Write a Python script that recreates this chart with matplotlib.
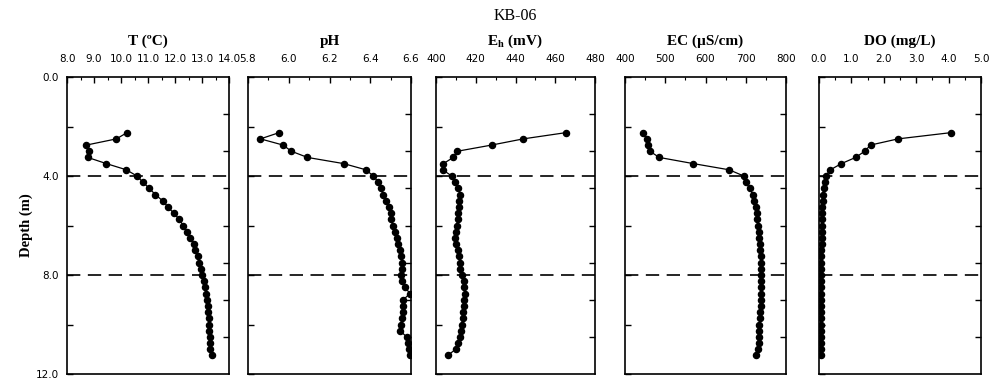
import matplotlib
matplotlib.use("Agg")
import matplotlib.pyplot as plt
from matplotlib.ticker import MultipleLocator

plt.rcParams['mathtext.fontset'] = 'stix'

depth = [2.25, 2.5, 2.75, 3.0, 3.25, 3.5, 3.75, 4.0, 4.25, 4.5, 4.75, 5.0, 5.25,
         5.5, 5.75, 6.0, 6.25, 6.5, 6.75, 7.0, 7.25, 7.5, 7.75, 8.0, 8.25, 8.5,
         8.75, 9.0, 9.25, 9.5, 9.75, 10.0, 10.25, 10.5, 10.75, 11.0, 11.25]

temp = [10.22, 9.83, 8.72, 8.80, 8.77, 9.46, 10.20, 10.59, 10.81, 11.05, 11.27,
        11.54, 11.74, 11.95, 12.16, 12.30, 12.44, 12.57, 12.69, 12.75, 12.84,
        12.90, 12.95, 13.01, 13.06, 13.11, 13.14, 13.19, 13.21, 13.23, 13.25,
        13.26, 13.27, 13.28, 13.28, 13.31, 13.36]

ph = [5.952, 5.861, 5.972, 6.013, 6.092, 6.270, 6.379, 6.415, 6.440, 6.455,
      6.462, 6.478, 6.490, 6.500, 6.503, 6.510, 6.521, 6.530, 6.538, 6.546,
      6.550, 6.556, 6.558, 6.552, 6.555, 6.571, 6.595, 6.562, 6.560, 6.562,
      6.556, 6.550, 6.547, 6.578, 6.585, 6.592, 6.596]

eh = [465.2, 443.9, 428.0, 410.7, 408.7, 403.7, 403.4, 407.9, 409.6, 411.2,
      412.1, 411.7, 411.7, 411.2, 410.9, 410.4, 410.1, 409.7, 410.1, 410.9,
      411.6, 412.1, 412.1, 413.2, 414.1, 414.2, 414.6, 414.2, 414.1, 413.8,
      413.4, 412.9, 412.6, 412.1, 411.2, 409.9, 405.9]

ec = [444, 454, 458, 462, 485, 570, 659, 695, 700, 710, 717, 721, 725, 728,
      729, 731, 733, 734, 735, 736, 737, 738, 739, 739, 739, 739, 739, 738,
      737, 736, 735, 734, 734, 733, 732, 730, 726]

do = [4.06, 2.44, 1.59, 1.41, 1.13, 0.69, 0.35, 0.21, 0.18, 0.14, 0.12, 0.11,
      0.10, 0.10, 0.09, 0.09, 0.08, 0.08, 0.08, 0.07, 0.07, 0.07, 0.07, 0.06,
      0.06, 0.06, 0.06, 0.06, 0.06, 0.06, 0.06, 0.06, 0.06, 0.06, 0.06, 0.06,
      0.06]

titles = ["T (\u00baC)", "pH", r"E$_\mathbf{h}$ (mV)", "EC (\u00b5S/cm)", "DO (mg/L)"]
series = [temp, ph, eh, ec, do]
xlims = [(8.0, 14.0), (5.8, 6.6), (400, 480), (400, 800), (0.0, 5.0)]
xmajor = [1.0, 0.2, 20, 100, 1.0]
xfmt = ["{:.1f}", "{:.1f}", "{:.0f}", "{:.0f}", "{:.1f}"]
ref_depths = [4.0, 8.0]

W, H = 992, 380
fig = plt.figure(figsize=(W / 100, H / 100), dpi=100)
panels_px = [(67, 229), (248, 411), (436, 595), (625, 786), (819, 981)]
top_px, bot_px = 77, 374

tickfont = dict(family="DejaVu Sans", size=7.5)

for i, ((l, r), vals) in enumerate(zip(panels_px, series)):
    ax = fig.add_axes([l / W, 1 - bot_px / H, (r - l) / W, (bot_px - top_px) / H])
    ax.plot(vals, depth, color="black", lw=0.9, marker="o", ms=4.4,
            mfc="black", mec="black", clip_on=True, zorder=3)
    for d in ref_depths:
        ax.axhline(d, color="black", lw=1.2, ls=(0, (8, 4.5)), zorder=2)
    ax.set_xlim(*xlims[i])
    ax.set_ylim(12.0, 0.0)
    ax.xaxis.tick_top()
    ax.xaxis.set_minor_locator(MultipleLocator(xmajor[i] / 2))
    lo, hi = xlims[i]
    nt = int(round((hi - lo) / xmajor[i]))
    ticks = [lo + k * xmajor[i] for k in range(nt + 1)]
    ax.set_xticks(ticks)
    ax.set_xticklabels([xfmt[i].format(t) for t in ticks], **tickfont)
    ax.tick_params(axis="x", which="major", direction="in", length=4, width=1, pad=9,
                   top=True, bottom=False)
    ax.tick_params(axis="x", which="minor", direction="in", length=2.5, width=0.8,
                   top=True, bottom=False)
    ax.set_yticks([0.0, 4.0, 8.0, 12.0])
    ax.yaxis.set_minor_locator(MultipleLocator(2.0))
    ax.tick_params(axis="y", which="both", direction="in", left=True, right=False,
                   length=4, width=1)
    if i == 0:
        ax.set_yticklabels(["0.0", "4.0", "8.0", "12.0"], **tickfont)
        ax.tick_params(axis="y", which="major", pad=6)
        ax.set_ylabel("Depth (m)", family="Liberation Serif", fontweight="bold",
                      fontsize=10.5, labelpad=2)
    else:
        ax.set_yticklabels([])
    for s in ax.spines.values():
        s.set_linewidth(1.2)
    fig.text((l + r) / 2 / W, 1 - 41 / H, titles[i], ha="center", va="center",
             family="Liberation Serif", fontweight="bold", fontsize=11)
    ax2 = ax.twinx()
    ax2.set_ylim(12.0, 0.0)
    ax2.set_yticks([1.5, 3.0, 4.5, 6.0, 7.5, 9.0, 10.5])
    ax2.set_yticklabels([])
    ax2.tick_params(axis="y", direction="in", length=4, width=1)
    for s in ax2.spines.values():
        s.set_visible(False)

fig.text(515 / W, 1 - 16 / H, "KB-06", ha="center", va="center",
         family="Liberation Serif", fontsize=11.5)

fig.savefig("out.png", dpi=100)
